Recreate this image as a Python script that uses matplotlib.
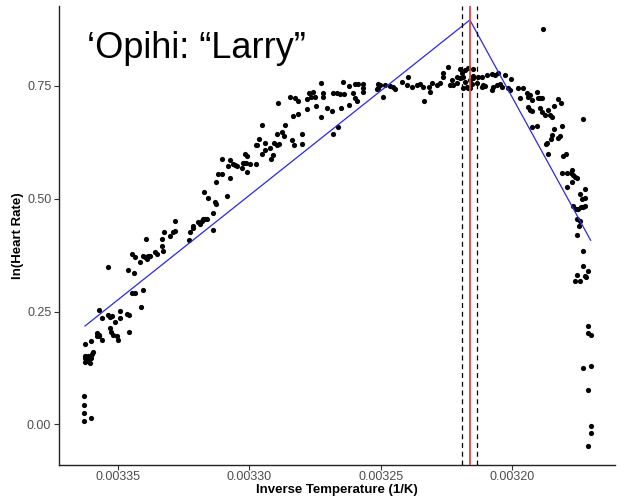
import numpy as np
import matplotlib
matplotlib.use("Agg")
import matplotlib.pyplot as plt

plt.rcParams["font.family"] = ["Liberation Sans", "DejaVu Sans"]

# inverse temperature in units of 1e-6 1/K, and ln(heart rate)
# cool end (left side of the plot)
inv_temp_cool = [3339.3, 3332.5, 3329.1, 3328.3, 3330.2, 3333.2, 3333.2, 3335.9, 3335.2, 3332.9,
                 3344.7, 3343.5, 3341.6, 3340.5, 3339.7, 3338.6, 3337.8, 3339.0, 3353.8, 3346.2,
                 3343.9, 3344.7, 3343.5, 3340.5, 3341.2, 3357.2, 3356.1, 3353.8, 3353.0, 3352.3,
                 3351.1, 3349.2, 3349.2, 3346.6, 3345.8, 3353.0, 3352.7, 3351.9, 3350.4, 3350.0,
                 3345.8, 3358.0, 3358.0, 3357.2, 3357.2, 3360.3, 3356.1, 3362.6, 3362.6, 3362.6,
                 3362.6, 3361.4, 3361.4, 3360.7, 3359.9, 3359.5, 3360.3, 3362.9, 3362.9, 3362.9,
                 3362.9, 3360.3]
ln_hr_cool = [0.410, 0.426, 0.426, 0.428, 0.417, 0.410, 0.395, 0.382, 0.377, 0.384,
              0.377, 0.371, 0.360, 0.373, 0.371, 0.373, 0.373, 0.366, 0.349, 0.342,
              0.335, 0.291, 0.291, 0.298, 0.260, 0.254, 0.236, 0.243, 0.238, 0.241,
              0.227, 0.252, 0.236, 0.245, 0.243, 0.214, 0.205, 0.199, 0.196, 0.188,
              0.205, 0.203, 0.196, 0.199, 0.196, 0.185, 0.188, 0.177, 0.152, 0.146,
              0.139, 0.152, 0.141, 0.135, 0.157, 0.161, 0.146, 0.062, 0.044, 0.026,
              0.007, 0.015]

# rising part
inv_temp_rise = [3289.1, 3295.2, 3296.3, 3297.1, 3294.0, 3292.1, 3290.6, 3289.4, 3288.7, 3295.2,
                 3294.0, 3291.7, 3291.0, 3297.4, 3301.6, 3300.9, 3302.4, 3302.0, 3301.3, 3299.7,
                 3297.4, 3302.8, 3300.9, 3310.4, 3307.3, 3308.1, 3306.2, 3305.4, 3304.7, 3307.3,
                 3311.9, 3310.4, 3312.7, 3308.5, 3317.3, 3315.7, 3313.1, 3312.7, 3313.8, 3313.8,
                 3319.5, 3318.8, 3318.0, 3317.6, 3316.9, 3316.1, 3321.4, 3322.6, 3321.4, 3323.0,
                 3328.3]
ln_hr_rise = [0.711, 0.664, 0.633, 0.618, 0.624, 0.613, 0.624, 0.620, 0.622, 0.600,
              0.609, 0.587, 0.596, 0.618, 0.600, 0.594, 0.580, 0.580, 0.580, 0.576,
              0.576, 0.567, 0.560, 0.589, 0.585, 0.572, 0.576, 0.574, 0.572, 0.547,
              0.554, 0.554, 0.538, 0.505, 0.514, 0.501, 0.492, 0.488, 0.468, 0.430,
              0.448, 0.444, 0.450, 0.455, 0.455, 0.455, 0.439, 0.426, 0.435, 0.408,
              0.450]

# upper shoulder
inv_temp_shoulder = [3272.7, 3264.3, 3262.0, 3259.7, 3258.6, 3256.7, 3256.7, 3256.7, 3251.0, 3251.4,
                     3284.5, 3282.6, 3281.5, 3278.0, 3277.3, 3275.7, 3276.5, 3275.0, 3271.9, 3271.9,
                     3268.1, 3266.6, 3265.5, 3263.9, 3260.5, 3259.7, 3259.0, 3278.0, 3274.6, 3270.4,
                     3268.5, 3265.1, 3262.0, 3272.7, 3283.4, 3281.5, 3286.4, 3289.4, 3287.5, 3286.8,
                     3279.9, 3283.7, 3283.0, 3279.9, 3266.2, 3268.1]
ln_hr_shoulder = [0.757, 0.759, 0.750, 0.755, 0.755, 0.755, 0.746, 0.737, 0.755, 0.744,
                  0.726, 0.724, 0.717, 0.722, 0.735, 0.737, 0.726, 0.726, 0.735, 0.726,
                  0.735, 0.735, 0.733, 0.733, 0.735, 0.724, 0.717, 0.699, 0.706, 0.702,
                  0.695, 0.702, 0.708, 0.682, 0.684, 0.688, 0.664, 0.644, 0.647, 0.638,
                  0.644, 0.629, 0.620, 0.622, 0.658, 0.644]

# plateau around the break point
inv_temp_plateau = [3250.2, 3251.0, 3248.3, 3246.4, 3245.3, 3244.5, 3241.9, 3239.9, 3239.6, 3238.0,
                    3236.1, 3235.0, 3233.9, 3249.1, 3233.5, 3231.2, 3231.6, 3230.4, 3228.5, 3227.4,
                    3226.2, 3226.2, 3224.3, 3223.6, 3222.8, 3222.4, 3220.9, 3220.9, 3219.8, 3219.0,
                    3218.6, 3217.9, 3217.1, 3216.7, 3218.6, 3216.0, 3215.2, 3214.8, 3217.9, 3216.7,
                    3219.8,
                    3216.0, 3214.8, 3214.8, 3212.9, 3211.4, 3213.3, 3211.4, 3211.0, 3210.2, 3209.5,
                    3207.6, 3207.2, 3207.6, 3205.7, 3206.4, 3205.3, 3204.5, 3203.8, 3202.6, 3201.5,
                    3200.7, 3200.3, 3197.7, 3195.8, 3196.9, 3194.3, 3193.9, 3193.1, 3192.3, 3193.9,
                    3193.1, 3192.3, 3190.4, 3190.1, 3189.3, 3188.5, 3188.5, 3186.3, 3187.4, 3190.4,
                    3192.3, 3186.6, 3186.3]
ln_hr_plateau = [0.752, 0.746, 0.752, 0.750, 0.748, 0.744, 0.759, 0.752, 0.770, 0.748,
                 0.752, 0.755, 0.748, 0.726, 0.717, 0.737, 0.748, 0.757, 0.752, 0.757,
                 0.770, 0.779, 0.792, 0.752, 0.763, 0.752, 0.757, 0.770, 0.768, 0.779,
                 0.770, 0.759, 0.748, 0.746, 0.746, 0.763, 0.755, 0.768, 0.785, 0.790,
                 0.788,
                 0.746, 0.788, 0.772, 0.770, 0.770, 0.757, 0.748, 0.752, 0.750, 0.775,
                 0.777, 0.748, 0.741, 0.752, 0.775, 0.779, 0.755, 0.748, 0.775, 0.746,
                 0.741, 0.766, 0.746, 0.746, 0.724, 0.735, 0.726, 0.730, 0.719, 0.704,
                 0.697, 0.695, 0.737, 0.724, 0.724, 0.724, 0.693, 0.697, 0.686, 0.662,
                 0.660, 0.624, 0.598]

# hot end (crash)
inv_temp_hot = [3188.2, 3189.3, 3185.5, 3184.7, 3184.0, 3182.4, 3181.3, 3180.9, 3184.0, 3184.7,
                3185.1, 3182.4, 3181.7, 3187.0, 3172.9, 3180.5, 3179.4, 3180.9, 3179.0, 3177.5,
                3177.1, 3176.7, 3176.0, 3175.2, 3179.0, 3177.1, 3174.1, 3172.2, 3173.3, 3172.2,
                3176.7, 3175.6, 3174.8, 3173.7, 3172.9, 3172.2, 3175.2, 3174.1, 3174.5, 3175.2,
                3172.9, 3172.9, 3171.0, 3175.2, 3172.2, 3171.8, 3176.0, 3174.1, 3171.0, 3171.0,
                3169.9, 3172.9, 3169.9, 3171.0, 3169.9, 3169.9, 3171.0]
ln_hr_hot = [0.876, 0.702, 0.686, 0.680, 0.706, 0.722, 0.711, 0.662, 0.655, 0.642,
             0.633, 0.635, 0.638, 0.622, 0.677, 0.594, 0.598, 0.558, 0.556, 0.558,
             0.563, 0.552, 0.549, 0.547, 0.527, 0.538, 0.510, 0.521, 0.499, 0.501,
             0.483, 0.477, 0.477, 0.481, 0.481, 0.483, 0.455, 0.450, 0.439, 0.419,
             0.384, 0.351, 0.340, 0.331, 0.329, 0.327, 0.318, 0.318, 0.218, 0.203,
             0.199, 0.124, 0.130, 0.077, -0.004, -0.020, -0.049]

# breakpoint regression (blue), break point (red) and its interval (dashed)
fit_inv_temp = [3362.6, 3216.0, 3170.0]
fit_ln_hr = [0.218, 0.896, 0.408]
break_inv_temp = 3216.0
ci_inv_temp = [3218.9, 3213.2]

x_ticks = [0.00335, 0.00330, 0.00325, 0.00320]
x_tick_labels = ["0.00335", "0.00330", "0.00325", "0.00320"]
y_ticks = [0.00, 0.25, 0.50, 0.75]
y_tick_labels = ["0.00", "0.25", "0.50", "0.75"]

E6 = 1e-6
inv_temp = np.concatenate([inv_temp_cool, inv_temp_rise, inv_temp_shoulder,
                           inv_temp_plateau, inv_temp_hot]) * E6
ln_hr = np.concatenate([ln_hr_cool, ln_hr_rise, ln_hr_shoulder, ln_hr_plateau, ln_hr_hot])

fig = plt.figure(figsize=(6.25, 4.98), dpi=100)
fig.patch.set_facecolor("white")
ax = fig.add_axes([0.0944, 33 / 498, 0.8896, 459 / 498])

ax.scatter(inv_temp, ln_hr, s=14, color="black", linewidths=0, zorder=2)
ax.plot(np.array(fit_inv_temp) * E6, fit_ln_hr, color="#2a2ae6", lw=0.9, zorder=3)
ax.axvline(break_inv_temp * E6, color="#E0454B", lw=1.3, zorder=4)
for c in ci_inv_temp:
    ax.axvline(c * E6, color="black", lw=0.9, ls=(0, (4, 3)), zorder=4)

ax.set_xlim(3372.5 * E6, 3160.7 * E6)
ax.set_ylim(-0.09, 0.927)

ax.set_xticks(x_ticks)
ax.set_xticklabels(x_tick_labels)
ax.set_yticks(y_ticks)
ax.set_yticklabels(y_tick_labels)
ax.tick_params(axis="both", length=3.5, width=0.8, color="#333333",
               labelcolor="#4D4D4D", labelsize=9, pad=2)
ax.tick_params(axis="x", pad=1)

for side in ["top", "right"]:
    ax.spines[side].set_visible(False)
for side in ["left", "bottom"]:
    ax.spines[side].set_color("#222222")
    ax.spines[side].set_linewidth(1.0)

ax.set_ylabel("ln(Heart Rate)", fontsize=9.5, fontweight="bold", labelpad=2)
fig.text(0.5392, 2 / 498, "Inverse Temperature (1/K)", fontsize=9.5,
         fontweight="bold", ha="center", va="bottom")

fig.text(87 / 625, 1 - 58 / 498, "\u2018Opihi: \u201cLarry\u201d",
         fontsize=26, color="black", ha="left", va="baseline")

fig.savefig("out.png", dpi=100)
